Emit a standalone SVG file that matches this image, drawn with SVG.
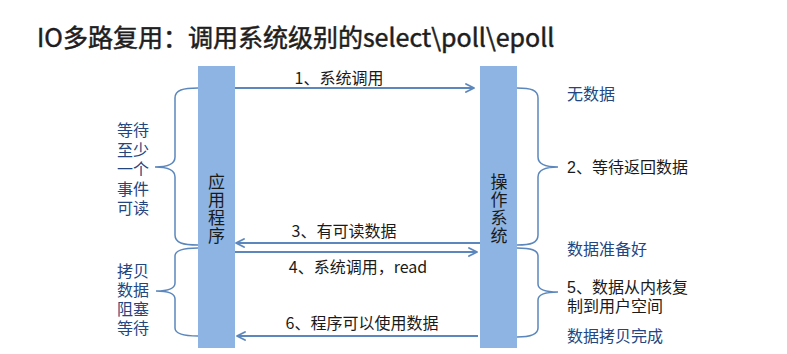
<svg xmlns="http://www.w3.org/2000/svg" width="787" height="354" viewBox="0 0 787 354">
  <defs>
    <marker id="chev" viewBox="0 0 10 10" refX="9" refY="5" markerWidth="10" markerHeight="10" markerUnits="userSpaceOnUse" orient="auto">
      <path d="M1,1 L9,5 L1,9" fill="none" stroke="#5b87bd" stroke-width="1.8" stroke-linecap="round" stroke-linejoin="round"/>
    </marker>
    <style>
      text { font-family: "Noto Sans CJK SC", "Liberation Sans", sans-serif; }
      .title { font-size: 25px; fill: #1e1e1e; stroke: #1e1e1e; stroke-width: 0.5px; }
      .bar { fill: #8db4e2; }
      .barText { font-size: 17px; fill: #1a1a1a; writing-mode: vertical-rl; text-orientation: upright; letter-spacing: 1px; }
      .lbl { font-size: 16px; fill: #1a1a1a; text-anchor: middle; }
      .note { font-family: "Liberation Sans", "Noto Sans CJK SC", sans-serif; font-size: 16px; fill: #1a1a1a; }
      .blue { font-family: "Liberation Sans", "Noto Sans CJK SC", sans-serif; font-size: 16px; fill: #24467f; }
      .arrow { stroke: #5b87bd; stroke-width: 1.8; fill: none; marker-end: url(#chev); }
      .brace { stroke: #5b87bd; stroke-width: 1.5; fill: none; }
    </style>
  </defs>

  <rect width="787" height="354" fill="#ffffff"/>

  <text class="title" x="37" y="47">IO多路复用：调用系统级别的select\poll\epoll</text>

  <g id="app">
    <rect class="bar" x="198" y="66" width="37" height="282"/>
    <text class="barText" x="216.5" y="173">应用程序</text>
  </g>

  <g id="os">
    <rect class="bar" x="480" y="66" width="37" height="282"/>
    <text class="barText" x="499" y="173">操作系统</text>
  </g>

  <g id="connectors">
    <line class="arrow" x1="235" y1="88" x2="474" y2="88"/>
    <line class="arrow" x1="480" y1="243" x2="236" y2="243"/>
    <line class="arrow" x1="235" y1="252" x2="477" y2="252"/>
    <line class="arrow" x1="478" y1="336" x2="237" y2="336"/>
  </g>

  <g id="arrow-labels">
    <text class="lbl" x="339" y="84">1、系统调用</text>
    <text class="lbl" x="344" y="237">3、有可读数据</text>
    <text class="lbl" x="358" y="273">4、系统调用，read</text>
    <text class="lbl" x="362" y="329">6、程序可以使用数据</text>
  </g>

  <g id="left-braces">
    <path class="brace" d="M198,88 C183,88 175,90 175,98 L175,157 C175,164 168,167 155,167 C168,167 175,170 175,177 L175,235 C175,243 183,245 198,245"/>
    <path class="brace" d="M198,248 C183,248 175,250 175,256 L175,283 C175,288 168,291 156,291 C168,291 175,294 175,299 L175,328 C175,334 183,336 198,336"/>
  </g>

  <g id="right-braces">
    <path class="brace" d="M517,88 C531,88 538,90 538,98 L538,157 C538,164 545,167 558,167 C545,167 538,170 538,177 L538,235 C538,243 531,245 517,245"/>
    <path class="brace" d="M517,248 C531,248 538,250 538,256 L538,284 C538,289 545,292 558,292 C545,292 538,295 538,300 L538,328 C538,334 531,337 517,337"/>
  </g>

  <g id="left-notes">
    <text class="blue" x="117" y="136"><tspan x="117">等待</tspan><tspan x="117" dy="19.5">至少</tspan><tspan x="117" dy="19.5">一个</tspan><tspan x="117" dy="19.5">事件</tspan><tspan x="117" dy="19.5">可读</tspan></text>
    <text class="blue" x="117" y="277"><tspan x="117">拷贝</tspan><tspan x="117" dy="19">数据</tspan><tspan x="117" dy="19">阻塞</tspan><tspan x="117" dy="19">等待</tspan></text>
  </g>

  <g id="right-notes">
    <text class="blue" x="567" y="100">无数据</text>
    <text class="note" x="567" y="173">2、等待返回数据</text>
    <text class="blue" x="567" y="255">数据准备好</text>
    <text class="note" x="567" y="293"><tspan x="567">5、数据从内核复</tspan><tspan x="567" dy="18.5">制到用户空间</tspan></text>
    <text class="blue" x="567" y="342">数据拷贝完成</text>
  </g>
</svg>
